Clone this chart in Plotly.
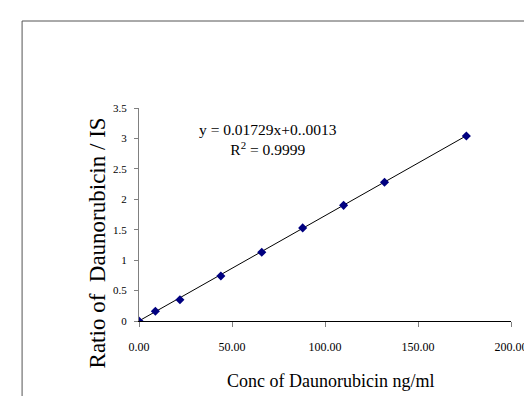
import plotly.graph_objects as go

conc = [0, 8.8, 22, 44, 66, 88, 110, 132, 176]
ratio = [0.0, 0.16, 0.35, 0.74, 1.13, 1.53, 1.90, 2.28, 3.04]
slope = 0.01729
intercept = 0.0013
x_ticks = [0, 50, 100, 150, 200]
x_tick_labels = ["0.00", "50.00", "100.00", "150.00", "200.00"]
y_ticks = [0, 0.5, 1, 1.5, 2, 2.5, 3, 3.5]
y_tick_labels = ["0", "0.5", "1", "1.5", "2", "2.5", "3", "3.5"]

serif = "Liberation Serif, Times New Roman, serif"

fit_x = [min(conc), max(conc)]
fit_y = [slope * v + intercept for v in fit_x]

fig = go.Figure()
fig.add_trace(go.Scatter(x=fit_x, y=fit_y, mode="lines",
                         line=dict(color="black", width=1), showlegend=False,
                         hoverinfo="skip"))
fig.add_trace(go.Scatter(x=conc, y=ratio, mode="markers",
                         marker=dict(symbol="diamond", size=7, color="#000080",
                                     line=dict(width=0)),
                         showlegend=False))

def px_x(p):
    return (p - 131) / 385

def px_y(p):
    return (313 - p) / 213

fig.update_layout(
    width=532, height=396,
    margin=dict(l=131, r=16, t=100, b=83),
    paper_bgcolor="white", plot_bgcolor="white",
    font=dict(family=serif, color="black"),
    xaxis=dict(range=[0, 200], tickvals=x_ticks, ticktext=x_tick_labels,
               showgrid=False, zeroline=False, showline=True,
               linecolor="black", linewidth=1, ticks="outside", ticklen=5,
               tickcolor="#808080", tickfont=dict(size=12, family=serif),
               ticklabeloverflow="allow", ticklabelstandoff=10),
    yaxis=dict(range=[0, 3.5], tickvals=y_ticks, ticktext=y_tick_labels,
               showgrid=False, zeroline=False, showline=True,
               linecolor="#808080", linewidth=1, ticks="outside", ticklen=4,
               tickcolor="#808080", tickfont=dict(size=11, family=serif),
               ticklabelstandoff=5),
    shapes=[dict(type="rect", xref="paper", yref="paper",
                 x0=px_x(10), x1=1.3, y0=-0.6, y1=px_y(13),
                 line=dict(color="#555555", width=1), layer="below")],
    annotations=[
        dict(text="y = 0.01729x+0..0013<br>R<sup>2</sup> = 0.9999",
             xref="paper", yref="paper", align="center",
             x=px_x(265), y=px_y(131), xanchor="center", yanchor="middle",
             showarrow=False, font=dict(size=15.5, family=serif)),
        dict(text="Conc of Daunorubicin ng/ml", xref="paper", yref="paper",
             x=px_x(329), y=px_y(373), xanchor="center", yanchor="middle",
             showarrow=False, font=dict(size=18, family=serif)),
        dict(text="Ratio of  Daunorubicin / IS", xref="paper", yref="paper",
             x=px_x(88), y=px_y(235), xanchor="center", yanchor="middle",
             showarrow=False, textangle=-90, font=dict(size=23, family=serif)),
    ],
)

fig.write_html("out.html")
